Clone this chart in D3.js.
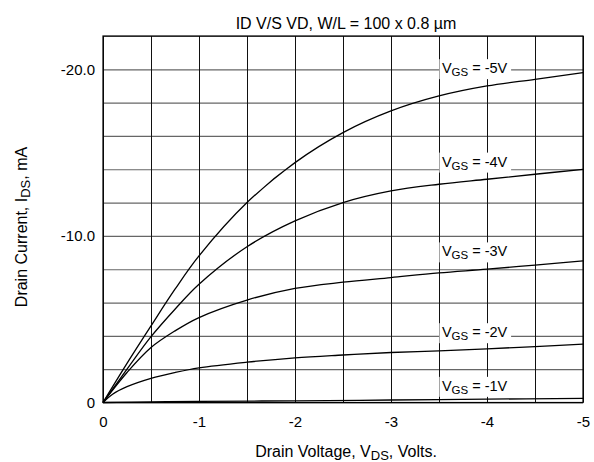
<!DOCTYPE html>
<html>
<head>
<meta charset="utf-8">
<script src="https://cdn.jsdelivr.net/npm/d3@7"></script>
<style>
  body { margin: 0; background: #fff; }
  text { font-family: "Liberation Sans", Arial, Helvetica, sans-serif; fill: #000; white-space: pre; }
</style>
</head>
<body>
<svg id="vis" width="594" height="462"></svg>
<script>
// Gate voltages, one curve each
const gateVoltages = ['-1', '-2', '-3', '-4', '-5'];

// Drain voltage (V) / drain current (mA)
const curveVgs1 = [[0, 0], [-0.5, -0.04], [-1, -0.07], [-2, -0.1], [-3, -0.15], [-4, -0.2], [-5, -0.25]];
const curveVgs2 = [[0, 0], [-0.1, -0.5], [-0.25, -0.95], [-0.5, -1.45], [-0.75, -1.8], [-1, -2.08], [-1.5, -2.42],
  [-2, -2.68], [-2.5, -2.85], [-3, -3.0], [-3.5, -3.1], [-4, -3.22], [-4.5, -3.36], [-5, -3.5]];
const curveVgs3 = [[0, 0], [-0.25, -1.8], [-0.5, -3.3], [-0.75, -4.3], [-1, -5.1], [-1.5, -6.15], [-2, -6.85],
  [-2.5, -7.22], [-3, -7.5], [-3.5, -7.78], [-4, -8.0], [-4.5, -8.25], [-5, -8.5]];
const curveVgs4 = [[0, 0], [-0.25, -2.0], [-0.5, -3.95], [-0.75, -5.6], [-1, -7.1], [-1.5, -9.35], [-2, -10.9],
  [-2.5, -12.0], [-3, -12.7], [-3.5, -13.1], [-4, -13.4], [-4.5, -13.7], [-5, -14.0]];
const curveVgs5 = [[0, 0], [-0.25, -2.35], [-0.5, -4.6], [-0.75, -6.8], [-1, -8.8], [-1.5, -12.0], [-2, -14.4],
  [-2.5, -16.2], [-3, -17.5], [-3.5, -18.4], [-4, -19.0], [-4.5, -19.4], [-5, -19.8]];

// Where each curve label sits (drain voltage, current)
const labelDrainV = -3.53;
const labelCurrent = [-1.0, -4.22, -9.07, -14.46, -20.07];

// Tick labels and grid lines
const xTickValues = [0, -1, -2, -3, -4, -5];
const xTickLabels = ['0', '-1', '-2', '-3', '-4', '-5'];
const yTickValues = [0, -10, -20];
const yTickLabels = ['0', '-10.0', '-20.0'];
const xGridValues = [0, -0.5, -1, -1.5, -2, -2.5, -3, -3.5, -4, -4.5, -5];
const yGridValues = [0, -2, -4, -6, -8, -10, -12, -14, -16, -18, -20, -22];

const svg = d3.select('#vis');
const width = +svg.attr('width');
const height = +svg.attr('height');
const margin = { top: 36, right: 11, bottom: 59.5, left: 103 };
const plotWidth = width - margin.left - margin.right;
const plotHeight = height - margin.top - margin.bottom;

const x = d3.scaleLinear().domain([0, -5]).range([margin.left, margin.left + plotWidth]);
const y = d3.scaleLinear().domain([0, -22]).range([margin.top + plotHeight, margin.top]);

// Horizontal grid
svg.append('g')
  .attr('transform', `translate(${margin.left},0)`)
  .call(d3.axisLeft(y).tickValues(yGridValues).tickSize(-plotWidth).tickFormat(''))
  .call(g => g.select('.domain').remove())
  .call(g => g.selectAll('line').attr('stroke', '#666').attr('stroke-width', 1.2));

// Vertical grid
svg.append('g')
  .attr('transform', `translate(0,${margin.top + plotHeight})`)
  .call(d3.axisBottom(x).tickValues(xGridValues).tickSize(-plotHeight).tickFormat(''))
  .call(g => g.select('.domain').remove())
  .call(g => g.selectAll('line').attr('stroke', '#111').attr('stroke-width', 1));

// Frame
svg.append('rect')
  .attr('x', margin.left)
  .attr('y', margin.top)
  .attr('width', plotWidth)
  .attr('height', plotHeight)
  .attr('fill', 'none')
  .attr('stroke', '#000')
  .attr('stroke-width', 1.2);

// Tick labels
svg.append('g')
  .attr('transform', `translate(0,${margin.top + plotHeight})`)
  .call(d3.axisBottom(x).tickValues(xTickValues).tickSize(0).tickPadding(14)
    .tickFormat((d, i) => xTickLabels[i]))
  .call(g => g.select('.domain').remove())
  .call(g => g.selectAll('text').style('font-size', '15px').attr('font-family', null));

svg.append('g')
  .attr('transform', `translate(${margin.left},0)`)
  .call(d3.axisLeft(y).tickValues(yTickValues).tickSize(0).tickPadding(8)
    .tickFormat((d, i) => yTickLabels[i]))
  .call(g => g.select('.domain').remove())
  .call(g => g.selectAll('text').style('font-size', '15px').attr('font-family', null));

// Curves
const line = d3.line()
  .x(d => x(d[0]))
  .y(d => y(d[1]))
  .curve(d3.curveCatmullRom.alpha(0.5));

[curveVgs1, curveVgs2, curveVgs3, curveVgs4, curveVgs5].forEach(c => {
  svg.append('path')
    .datum(c)
    .attr('d', line)
    .attr('fill', 'none')
    .attr('stroke', '#000')
    .attr('stroke-width', 1.3);
});

// Curve labels on white boxes
gateVoltages.forEach((v, i) => {
  const g = svg.append('g');
  const t = g.append('text')
    .attr('x', x(labelDrainV))
    .attr('y', y(labelCurrent[i]) + 5)
    .style('font-size', '14.5px');
  t.append('tspan').text('V');
  t.append('tspan').attr('dy', 3).style('font-size', '11.5px').text('GS');
  t.append('tspan').attr('dy', -3).text(` = ${v}V`);
  const b = t.node().getBBox();
  g.insert('rect', 'text')
    .attr('x', b.x - 2.5)
    .attr('y', b.y - 1)
    .attr('width', b.width + 6)
    .attr('height', b.height + 2)
    .attr('fill', '#fff');
});

// Title
svg.append('text')
  .attr('x', 346)
  .attr('y', 29)
  .attr('text-anchor', 'middle')
  .style('font-size', '16px')
  .text('ID V/S VD, W/L = 100 x 0.8 \u00b5m');

// X axis title
const xt = svg.append('text')
  .attr('x', 346)
  .attr('y', 457)
  .attr('text-anchor', 'middle')
  .style('font-size', '16px');
xt.append('tspan').text('Drain Voltage, V');
xt.append('tspan').attr('dy', 3).style('font-size', '13px').text('DS');
xt.append('tspan').attr('dy', -3).text(', Volts.');

// Y axis title
const yt = svg.append('text')
  .attr('transform', 'translate(27,227) rotate(-90)')
  .attr('text-anchor', 'middle')
  .style('font-size', '16px');
yt.append('tspan').text('Drain Current, I');
yt.append('tspan').attr('dy', 3).style('font-size', '13px').text('DS');
yt.append('tspan').attr('dy', -3).text(', mA');
</script>
</body>
</html>
